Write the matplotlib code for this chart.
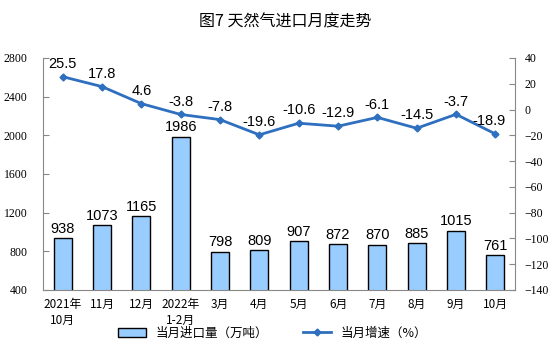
import numpy as np
import matplotlib.pyplot as plt

plt.rcParams['font.family'] = ['Liberation Sans', 'Noto Sans CJK SC', 'DejaVu Sans']

months = ['2021年\n10月', '11月', '12月', '2022年\n1-2月', '3月', '4月',
          '5月', '6月', '7月', '8月', '9月', '10月']
imports = [938, 1073, 1165, 1986, 798, 809, 907, 872, 870, 885, 1015, 761]
growth = [25.5, 17.8, 4.6, -3.8, -7.8, -19.6, -10.6, -12.9, -6.1, -14.5, -3.7, -18.9]

fig = plt.figure(figsize=(5.54, 3.53), dpi=100)
ax = fig.add_axes([43/554, 1-290/353, 472/554, 232/353])
x = np.arange(len(months))

ax.bar(x, imports, width=0.45, color='#99CCFF', edgecolor='black', linewidth=1.0,
       label='当月进口量（万吨）', zorder=2)
ax.set_xlim(-0.5, len(months)-0.5)
ax.set_ylim(400, 2800)
ax.set_yticks(range(400, 2801, 400))
for xi, v in zip(x, imports):
    ax.text(xi, v + 25, str(v), ha='center', va='bottom', fontsize=10.5,
            family='Liberation Sans')

ax2 = ax.twinx()
ax2.plot(x, growth, color='#2E6FBF', linewidth=2, marker='D', markersize=3.5,
         label='当月增速（%）', zorder=3)
ax2.set_ylim(-140, 40)
ax2.set_yticks(range(-140, 41, 20))
for xi, v in zip(x, growth):
    dx = -0.15 if xi == len(x)-1 else 0
    ax2.text(xi + dx, v + 4.5, f'{v:g}', ha='center', va='bottom', fontsize=10.5,
             family='Liberation Sans')

ax.set_xticks(x)
ax.set_xticklabels(months, fontsize=8.5, family=['Noto Sans CJK SC', 'DejaVu Sans'],
                   linespacing=1.3)
ax.tick_params(axis='x', length=0, pad=6)
for a, p in ((ax, 11), (ax2, 7)):
    for s in a.spines.values():
        s.set_color('#888888')
    a.spines['top'].set_visible(False)
    a.tick_params(axis='y', direction='in', length=4, color='#888888',
                  labelsize=8.5, pad=p)
    for lab in a.get_yticklabels():
        lab.set_family('Liberation Serif')
ax.spines['right'].set_visible(False)
ax2.spines['left'].set_visible(False)
ax2.spines['bottom'].set_visible(False)

fig.text(0.515, 1-22/353, '图7 天然气进口月度走势', ha='center', va='center',
         fontsize=11.5, family=['Noto Sans CJK SC', 'DejaVu Sans'])

h1, l1 = ax.get_legend_handles_labels()
h2, l2 = ax2.get_legend_handles_labels()
leg = fig.legend(h1 + h2, l1 + l2, loc='center', bbox_to_anchor=(0.492, 1-333/353),
                 ncol=2, frameon=False, columnspacing=2.8, handlelength=2.2,
                 prop={'family': ['Noto Sans CJK SC', 'DejaVu Sans'], 'size': 9})

fig.savefig('out.png', dpi=100)
